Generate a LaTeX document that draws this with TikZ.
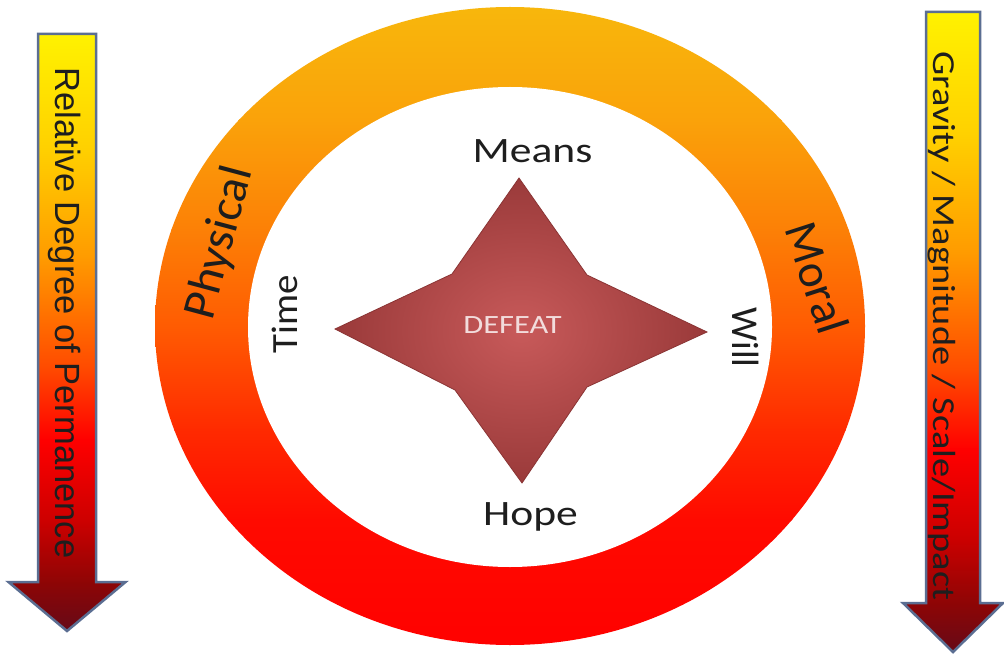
\documentclass[tikz,border=0pt]{standalone}
\usepackage{fontspec}
\setmainfont{Carlito}
\newfontfamily\arialf{Liberation Sans}
\usepackage{graphicx}
\definecolor{ra}{HTML}{F8B80C}
\definecolor{rb}{HTML}{FAA20A}
\definecolor{rc}{HTML}{FC8006}
\definecolor{rd}{HTML}{FF5A02}
\definecolor{re}{HTML}{FF2A00}
\definecolor{rf}{HTML}{FF0A00}
\definecolor{rg}{HTML}{FF0000}
\definecolor{aa}{HTML}{FFF200}
\definecolor{ab}{HTML}{FFD000}
\definecolor{ac}{HTML}{FF9A00}
\definecolor{ad}{HTML}{FF4A00}
\definecolor{ae}{HTML}{FF0000}
\definecolor{af}{HTML}{CC0000}
\definecolor{ag}{HTML}{8E0505}
\definecolor{ah}{HTML}{650A18}
\definecolor{edgeblue}{HTML}{5B6E92}
\definecolor{starin}{HTML}{C85A5A}
\definecolor{starout}{HTML}{9A3A3A}
\definecolor{staredge}{HTML}{8A3434}
\definecolor{textdark}{HTML}{1E1E1E}
\definecolor{defeatc}{HTML}{F2DCDC}
\newcommand\gradarrow[6]{% cx, top, halfshaft, headbase, halfhead, tip
  \begin{scope}
    \clip ({#1-#3},#2) -- ({#1+#3},#2) -- ({#1+#3},#4) -- ({#1+#5},#4) -- (#1,#6) -- ({#1-#5},#4) -- ({#1-#3},#4) -- cycle;
    \foreach \ya/\yb/\ca/\cb in {0/0.21/aa/ab, 0.21/0.41/ab/ac, 0.41/0.61/ac/ad, 0.61/0.74/ad/ae, 0.74/0.89/ae/af, 0.89/1/af/ag}
      \shade[top color=\ca, bottom color=\cb] ({#1-#5-3},{#2+\ya*(#4-#2)-0.5}) rectangle ({#1+#5+3},{#2+\yb*(#4-#2)+0.5});
    \shade[top color=ag, bottom color=ah] ({#1-#5-3},#4) rectangle ({#1+#5+3},{#6+1});
  \end{scope}
  \draw[arrowedge] ({#1-#3},#2) -- ({#1+#3},#2) -- ({#1+#3},#4) -- ({#1+#5},#4) -- (#1,#6) -- ({#1-#5},#4) -- ({#1-#3},#4) -- cycle;
}
\begin{document}
\begin{tikzpicture}[x=1pt,y=-1pt,
  txt/.style={inner sep=0pt, anchor=base, text=textdark},
  arrowedge/.style={draw=edgeblue, line width=2.5pt, line join=miter}]
\useasboundingbox (0,0) rectangle (1004,655);
\fill[white] (0,0) rectangle (1004,655);

% ring
\begin{scope}
  \clip (510,326) ellipse [x radius=355, y radius=319];
  \foreach \ya/\yb/\ca/\cb in {0/120/ra/rb, 120/230/rb/rc, 230/330/rc/rd, 330/430/rd/re, 430/520/re/rf, 520/660/rf/rg}
    \shade[top color=\ca, bottom color=\cb] (150,{\ya-0.5}) rectangle (870,{\yb+0.5});
\end{scope}
\fill[white] (510,327) ellipse [x radius=262, y radius=240];

% star
\shadedraw[inner color=starin, outer color=starout, draw=staredge, line width=0.8pt, line join=miter]
  (519,178) -- (587,275) -- (707,332) -- (587,387) -- (522,483) -- (455,390) -- (335,329) -- (452,274) -- cycle;

% arrows
\gradarrow{67}{34}{29}{582}{58.5}{631}
\gradarrow{953}{12}{27}{603}{50}{652}

% texts
\node[txt] (means) at (532.5,163) {\fontsize{35.7}{36}\selectfont\scalebox{1.22}[1]{Means}};
\node[txt] (hope) at (530.5,525) {\fontsize{35.7}{36}\selectfont\scalebox{1.22}[1]{Hope}};
\node[txt, text=defeatc] (defeat) at (512.5,333.3) {\fontsize{26.4}{27}\selectfont\scalebox{1.23}[1]{DEFEAT}};
\node[txt, rotate=90] (time) at (297,314) {\fontsize{37}{37}\selectfont\scalebox{1.05}[1]{Time}};
\node[txt, rotate=-90] (will) at (732,337.5) {\fontsize{38}{38}\selectfont Will};
\node[txt, rotate=75] (physical) at (232.6,246) {\fontsize{47}{47}\selectfont\scalebox{1.03}[1]{Physical}};
\node[txt, rotate=-72] (moral) at (802,283) {\fontsize{47}{47}\selectfont Moral};
\node[txt, rotate=-90] (perm) at (55,313) {\arialf\fontsize{35}{35}\selectfont\scalebox{0.985}[1]{Relative Degree of Permanence}};
\node[txt, rotate=-90] (grav) at (933,326) {\fontsize{32}{32}\selectfont\scalebox{1.2}[1]{Gravity / Magnitude / Scale/Impact}};
\end{tikzpicture}
\end{document}
